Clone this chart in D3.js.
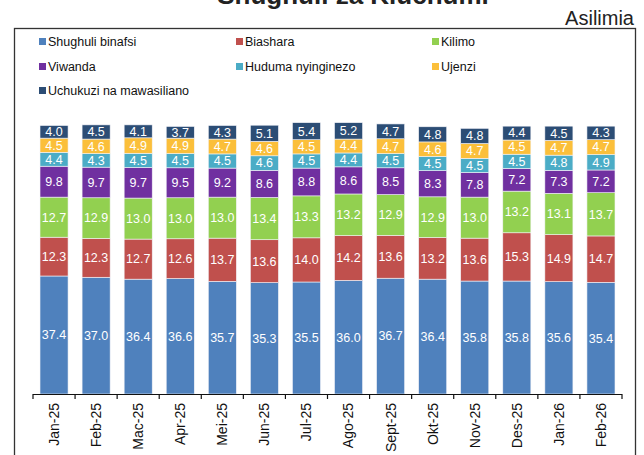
<!DOCTYPE html>
<html><head><meta charset="utf-8">
<script src="https://cdn.jsdelivr.net/npm/d3@7/dist/d3.min.js"></script>
<style>
html,body{margin:0;padding:0;background:#fff;}
svg{display:block;font-family:"Liberation Sans",Arial,Helvetica,sans-serif;}
</style></head>
<body><svg id="c" width="644" height="455"></svg>
<script>
const months = ["Jan-25","Feb-25","Mac-25","Apr-25","Mei-25","Jun-25","Jul-25","Ago-25","Sept-25","Okt-25","Nov-25","Des-25","Jan-26","Feb-26"];
const seriesNames = ["Shughuli binafsi","Biashara","Kilimo","Viwanda","Huduma nyinginezo","Ujenzi","Uchukuzi na mawasiliano"];
const shughuliBinafsi = [37.4,37.0,36.4,36.6,35.7,35.3,35.5,36.0,36.7,36.4,35.8,35.8,35.6,35.4];
const biashara        = [12.3,12.3,12.7,12.6,13.7,13.6,14.0,14.2,13.6,13.2,13.6,15.3,14.9,14.7];
const kilimo          = [12.7,12.9,13.0,13.0,13.0,13.4,13.3,13.2,12.9,12.9,13.0,13.2,13.1,13.7];
const viwanda         = [9.8,9.7,9.7,9.5,9.2,8.6,8.8,8.6,8.5,8.3,7.8,7.2,7.3,7.2];
const huduma          = [4.4,4.3,4.5,4.5,4.5,4.6,4.5,4.4,4.5,4.5,4.5,4.5,4.8,4.9];
const ujenzi          = [4.5,4.6,4.9,4.9,4.7,4.6,4.5,4.4,4.7,4.6,4.7,4.5,4.7,4.7];
const uchukuzi        = [4.0,4.5,4.1,3.7,4.3,5.1,5.4,5.2,4.7,4.8,4.8,4.4,4.5,4.3];
const colors = ["#4f81bd","#c0504d","#92d050","#7030a0","#4bacc6","#fbbf3a","#2c4d75"];

const seriesValues = [shughuliBinafsi,biashara,kilimo,viwanda,huduma,ujenzi,uchukuzi];
const table = months.map((m,i)=>{const o={month:m}; seriesNames.forEach((s,j)=>o[s]=seriesValues[j][i]); return o;});
const stacked = d3.stack().keys(seriesNames)(table);

const svg = d3.select("#c");
const x = d3.scaleBand().domain(months).range([33,622]).paddingInner(0.333).paddingOuter(0.1665);
const y = d3.scaleLinear().domain([0,100]).range([394,78.5]);
const color = d3.scaleOrdinal().domain(seriesNames).range(colors);

// title
svg.append("text").attr("x",353).attr("y",4).attr("text-anchor","middle")
  .attr("font-size",26).attr("font-weight","bold").attr("fill","#222").text("Shughuli za Kiuchumi");
svg.append("text").attr("x",634).attr("y",25).attr("text-anchor","end")
  .attr("font-size",20).attr("fill","#222").text("Asilimia");

// frame
svg.append("rect").attr("x",14.5).attr("y",28.5).attr("width",621).attr("height",460)
  .attr("fill","none").attr("stroke","#333").attr("stroke-width",1.3);

// legend
const legCols=[39,236,432], legRows=[41.5,66.5,90.5];
seriesNames.forEach((s,i)=>{
  const g = svg.append("g").attr("transform",`translate(${legCols[i%3]},${legRows[Math.floor(i/3)]})`);
  g.append("rect").attr("x",0).attr("y",-3.5).attr("width",7).attr("height",7).attr("fill",color(s));
  g.append("text").attr("x",9).attr("y",0).attr("dy","0.35em").attr("font-size",12.5).attr("fill","#111").text(s);
});

// bars
const layers = svg.append("g").selectAll("g").data(stacked).join("g").attr("fill",d=>color(d.key));
layers.selectAll("rect").data(d=>d).join("rect")
  .attr("x",d=>x(d.data.month)).attr("width",x.bandwidth())
  .attr("y",d=>y(d[1])).attr("height",d=>y(d[0])-y(d[1]))
  .attr("stroke","#f4f4f8").attr("stroke-width",0.6);
layers.selectAll("text").data(d=>d).join("text")
  .attr("x",d=>x(d.data.month)+x.bandwidth()/2)
  .attr("y",d=>(y(d[0])+y(d[1]))/2).attr("dy","0.35em")
  .attr("text-anchor","middle").attr("font-size",12.5).attr("fill","#fff")
  .text(d=>(d[1]-d[0]).toFixed(1));

// x axis
const ax = svg.append("g");
ax.append("line").attr("x1",x.range()[0]).attr("x2",x.range()[1]).attr("y1",y(0)+0.5).attr("y2",y(0)+0.5)
  .attr("stroke","#111").attr("stroke-width",1.2);
const bounds = d3.range(months.length+1).map(i=>x.range()[0]+i*x.step());
ax.selectAll("line.t").data(bounds).join("line").attr("class","t")
  .attr("x1",d=>d).attr("x2",d=>d).attr("y1",y(0)).attr("y2",y(0)+5)
  .attr("stroke","#111").attr("stroke-width",1.2);
ax.selectAll("text").data(months).join("text")
  .attr("transform",d=>`translate(${x(d)+x.bandwidth()/2},${y(0)+9}) rotate(-90)`)
  .attr("text-anchor","end").attr("dy","0.35em").attr("font-size",14).attr("fill","#111").text(d=>d);
</script></body></html>
